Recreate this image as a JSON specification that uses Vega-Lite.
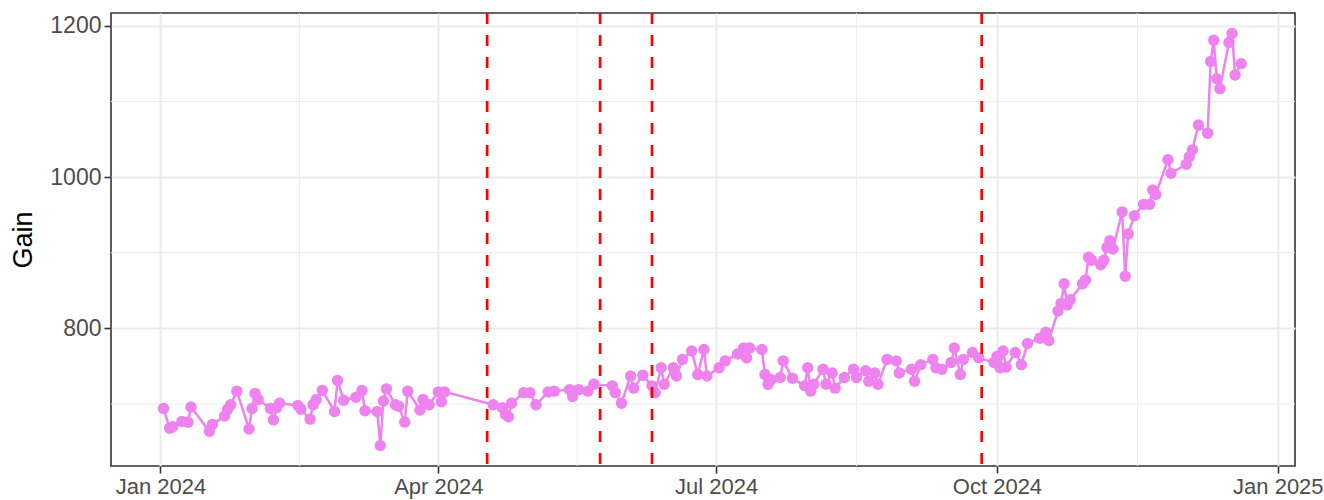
{
  "$schema": "https://vega.github.io/schema/vega-lite/v6.json",
  "width": 1184,
  "height": 453,
  "autosize": {"type": "none"},
  "padding": {"left": 111, "top": 13, "right": 29, "bottom": 34},
  "background": "white",
  "config": {
    "view": {"stroke": "#333333", "strokeWidth": 1.6},
    "font": "Liberation Sans"
  },
  "datasets": {
    "gain": [
      {"date": "2024-01-02", "gain": 694}, {"date": "2024-01-04", "gain": 668}, {"date": "2024-01-05", "gain": 670},
      {"date": "2024-01-08", "gain": 677}, {"date": "2024-01-10", "gain": 676}, {"date": "2024-01-11", "gain": 696},
      {"date": "2024-01-17", "gain": 664}, {"date": "2024-01-18", "gain": 673}, {"date": "2024-01-22", "gain": 684},
      {"date": "2024-01-23", "gain": 693}, {"date": "2024-01-24", "gain": 699}, {"date": "2024-01-26", "gain": 717},
      {"date": "2024-01-30", "gain": 667}, {"date": "2024-01-31", "gain": 694}, {"date": "2024-02-01", "gain": 714},
      {"date": "2024-02-02", "gain": 706}, {"date": "2024-02-06", "gain": 694}, {"date": "2024-02-07", "gain": 679},
      {"date": "2024-02-08", "gain": 695}, {"date": "2024-02-09", "gain": 701}, {"date": "2024-02-15", "gain": 698},
      {"date": "2024-02-16", "gain": 693}, {"date": "2024-02-19", "gain": 680}, {"date": "2024-02-20", "gain": 699},
      {"date": "2024-02-21", "gain": 706}, {"date": "2024-02-23", "gain": 718}, {"date": "2024-02-27", "gain": 690},
      {"date": "2024-02-28", "gain": 731}, {"date": "2024-03-01", "gain": 705}, {"date": "2024-03-05", "gain": 709},
      {"date": "2024-03-07", "gain": 718}, {"date": "2024-03-08", "gain": 691}, {"date": "2024-03-12", "gain": 690},
      {"date": "2024-03-13", "gain": 645}, {"date": "2024-03-14", "gain": 704}, {"date": "2024-03-15", "gain": 720},
      {"date": "2024-03-18", "gain": 699}, {"date": "2024-03-19", "gain": 697}, {"date": "2024-03-21", "gain": 676},
      {"date": "2024-03-22", "gain": 717}, {"date": "2024-03-26", "gain": 692}, {"date": "2024-03-27", "gain": 706},
      {"date": "2024-03-29", "gain": 699}, {"date": "2024-04-01", "gain": 716}, {"date": "2024-04-02", "gain": 703},
      {"date": "2024-04-03", "gain": 716}, {"date": "2024-04-19", "gain": 699}, {"date": "2024-04-22", "gain": 695},
      {"date": "2024-04-23", "gain": 686}, {"date": "2024-04-24", "gain": 683}, {"date": "2024-04-25", "gain": 701},
      {"date": "2024-04-29", "gain": 715}, {"date": "2024-05-01", "gain": 715}, {"date": "2024-05-03", "gain": 699},
      {"date": "2024-05-07", "gain": 716}, {"date": "2024-05-09", "gain": 717}, {"date": "2024-05-14", "gain": 719},
      {"date": "2024-05-15", "gain": 710}, {"date": "2024-05-17", "gain": 719}, {"date": "2024-05-20", "gain": 717},
      {"date": "2024-05-22", "gain": 726}, {"date": "2024-05-28", "gain": 724}, {"date": "2024-05-29", "gain": 715},
      {"date": "2024-05-31", "gain": 701}, {"date": "2024-06-03", "gain": 737}, {"date": "2024-06-04", "gain": 721},
      {"date": "2024-06-07", "gain": 738}, {"date": "2024-06-10", "gain": 724}, {"date": "2024-06-11", "gain": 715},
      {"date": "2024-06-13", "gain": 748}, {"date": "2024-06-14", "gain": 726}, {"date": "2024-06-17", "gain": 748},
      {"date": "2024-06-18", "gain": 737}, {"date": "2024-06-20", "gain": 759}, {"date": "2024-06-23", "gain": 770},
      {"date": "2024-06-25", "gain": 739}, {"date": "2024-06-27", "gain": 772}, {"date": "2024-06-28", "gain": 737},
      {"date": "2024-07-02", "gain": 748}, {"date": "2024-07-04", "gain": 757}, {"date": "2024-07-08", "gain": 766},
      {"date": "2024-07-10", "gain": 774}, {"date": "2024-07-11", "gain": 761}, {"date": "2024-07-12", "gain": 774},
      {"date": "2024-07-16", "gain": 772}, {"date": "2024-07-17", "gain": 739}, {"date": "2024-07-18", "gain": 726},
      {"date": "2024-07-19", "gain": 732}, {"date": "2024-07-22", "gain": 735}, {"date": "2024-07-23", "gain": 757},
      {"date": "2024-07-26", "gain": 734}, {"date": "2024-07-30", "gain": 724}, {"date": "2024-07-31", "gain": 748},
      {"date": "2024-08-01", "gain": 717}, {"date": "2024-08-02", "gain": 726}, {"date": "2024-08-05", "gain": 746},
      {"date": "2024-08-06", "gain": 726}, {"date": "2024-08-08", "gain": 741}, {"date": "2024-08-09", "gain": 721},
      {"date": "2024-08-12", "gain": 735}, {"date": "2024-08-15", "gain": 746}, {"date": "2024-08-16", "gain": 735},
      {"date": "2024-08-19", "gain": 744}, {"date": "2024-08-20", "gain": 730}, {"date": "2024-08-22", "gain": 741},
      {"date": "2024-08-23", "gain": 726}, {"date": "2024-08-26", "gain": 759}, {"date": "2024-08-29", "gain": 757},
      {"date": "2024-08-30", "gain": 741}, {"date": "2024-09-03", "gain": 746}, {"date": "2024-09-04", "gain": 730},
      {"date": "2024-09-06", "gain": 752}, {"date": "2024-09-10", "gain": 759}, {"date": "2024-09-11", "gain": 748},
      {"date": "2024-09-13", "gain": 746}, {"date": "2024-09-16", "gain": 755}, {"date": "2024-09-17", "gain": 774},
      {"date": "2024-09-19", "gain": 739}, {"date": "2024-09-20", "gain": 759}, {"date": "2024-09-23", "gain": 768},
      {"date": "2024-09-25", "gain": 761}, {"date": "2024-09-30", "gain": 755}, {"date": "2024-10-01", "gain": 763},
      {"date": "2024-10-02", "gain": 748}, {"date": "2024-10-03", "gain": 770}, {"date": "2024-10-04", "gain": 749},
      {"date": "2024-10-07", "gain": 768}, {"date": "2024-10-09", "gain": 752}, {"date": "2024-10-11", "gain": 780},
      {"date": "2024-10-15", "gain": 787}, {"date": "2024-10-17", "gain": 795}, {"date": "2024-10-18", "gain": 784},
      {"date": "2024-10-21", "gain": 823}, {"date": "2024-10-22", "gain": 833}, {"date": "2024-10-23", "gain": 859},
      {"date": "2024-10-24", "gain": 831}, {"date": "2024-10-25", "gain": 838}, {"date": "2024-10-29", "gain": 859},
      {"date": "2024-10-30", "gain": 864}, {"date": "2024-10-31", "gain": 894}, {"date": "2024-11-01", "gain": 890},
      {"date": "2024-11-04", "gain": 884}, {"date": "2024-11-05", "gain": 890}, {"date": "2024-11-06", "gain": 907},
      {"date": "2024-11-07", "gain": 916}, {"date": "2024-11-08", "gain": 905}, {"date": "2024-11-11", "gain": 954},
      {"date": "2024-11-12", "gain": 869}, {"date": "2024-11-13", "gain": 925}, {"date": "2024-11-15", "gain": 949},
      {"date": "2024-11-18", "gain": 964}, {"date": "2024-11-20", "gain": 964}, {"date": "2024-11-21", "gain": 983},
      {"date": "2024-11-22", "gain": 977}, {"date": "2024-11-26", "gain": 1023}, {"date": "2024-11-27", "gain": 1005},
      {"date": "2024-12-02", "gain": 1017}, {"date": "2024-12-03", "gain": 1027}, {"date": "2024-12-04", "gain": 1036},
      {"date": "2024-12-06", "gain": 1069}, {"date": "2024-12-09", "gain": 1058}, {"date": "2024-12-10", "gain": 1153},
      {"date": "2024-12-11", "gain": 1181}, {"date": "2024-12-12", "gain": 1130}, {"date": "2024-12-13", "gain": 1117},
      {"date": "2024-12-16", "gain": 1178}, {"date": "2024-12-17", "gain": 1190}, {"date": "2024-12-18", "gain": 1135},
      {"date": "2024-12-20", "gain": 1150}
    ],
    "events": [
      {"date": "2024-04-17"}, {"date": "2024-05-24"}, {"date": "2024-06-10"}, {"date": "2024-09-26"}
    ],
    "xminor": [
      {"date": "2024-02-15T12:00:00Z"}, {"date": "2024-05-16T12:00:00Z"}, {"date": "2024-08-16T00:00:00Z"}, {"date": "2024-11-16T00:00:00Z"}
    ],
    "yminor": [
      {"gain": 700}, {"gain": 900}, {"gain": 1100}
    ]
  },
  "layer": [
    {
      "data": {"name": "xminor"},
      "mark": {"type": "rule", "color": "#EBEBEB", "strokeWidth": 1},
      "encoding": {
        "x": {
          "field": "date", "type": "temporal",
          "scale": {"type": "utc", "domain": [{"year": 2023, "month": 12, "date": 15, "hours": 19, "utc": true}, {"year": 2025, "month": 1, "date": 6, "hours": 15, "utc": true}]},
          "axis": {
            "title": null, "format": "%b %Y",
            "values": [
              {"year": 2024, "month": 1, "date": 1, "utc": true},
              {"year": 2024, "month": 4, "date": 1, "utc": true},
              {"year": 2024, "month": 7, "date": 1, "utc": true},
              {"year": 2024, "month": 10, "date": 1, "utc": true},
              {"year": 2025, "month": 1, "date": 1, "utc": true}
            ],
            "grid": true, "gridColor": "#EBEBEB", "gridWidth": 2,
            "domain": false, "tickColor": "#333333", "tickWidth": 1.6, "tickSize": 7,
            "labelFontSize": 22, "labelColor": "#4D4D4D", "labelPadding": 3, "labelFont": "Liberation Sans",
            "labelFlush": false, "labelOverlap": false
          }
        }
      }
    },
    {
      "data": {"name": "yminor"},
      "mark": {"type": "rule", "color": "#EBEBEB", "strokeWidth": 1},
      "encoding": {
        "y": {
          "field": "gain", "type": "quantitative",
          "scale": {"domain": [618, 1217], "nice": false, "zero": false},
          "axis": {
            "title": "Gain", "values": [800, 1000, 1200], "format": "d",
            "grid": true, "gridColor": "#EBEBEB", "gridWidth": 2,
            "domain": false, "tickColor": "#333333", "tickWidth": 1.6, "tickSize": 7,
            "labelFontSize": 23, "labelColor": "#4D4D4D", "labelPadding": 3, "labelFont": "Liberation Sans",
            "titleFontSize": 27, "titleFontWeight": "normal", "titleColor": "#000000", "titleFont": "Liberation Sans", "titlePadding": 12
          }
        }
      }
    },
    {
      "data": {"name": "gain"},
      "mark": {"type": "line", "color": "#EE82EE", "strokeWidth": 2.5},
      "encoding": {
        "x": {"field": "date", "type": "temporal"},
        "y": {"field": "gain", "type": "quantitative"}
      }
    },
    {
      "data": {"name": "gain"},
      "mark": {"type": "circle", "color": "#EE82EE", "opacity": 1, "size": 130},
      "encoding": {
        "x": {"field": "date", "type": "temporal"},
        "y": {"field": "gain", "type": "quantitative"}
      }
    },
    {
      "data": {"name": "events"},
      "mark": {"type": "rule", "color": "#FF0000", "strokeWidth": 2.7, "strokeDash": [11, 11]},
      "encoding": {
        "x": {"field": "date", "type": "temporal"}
      }
    }
  ]
}
